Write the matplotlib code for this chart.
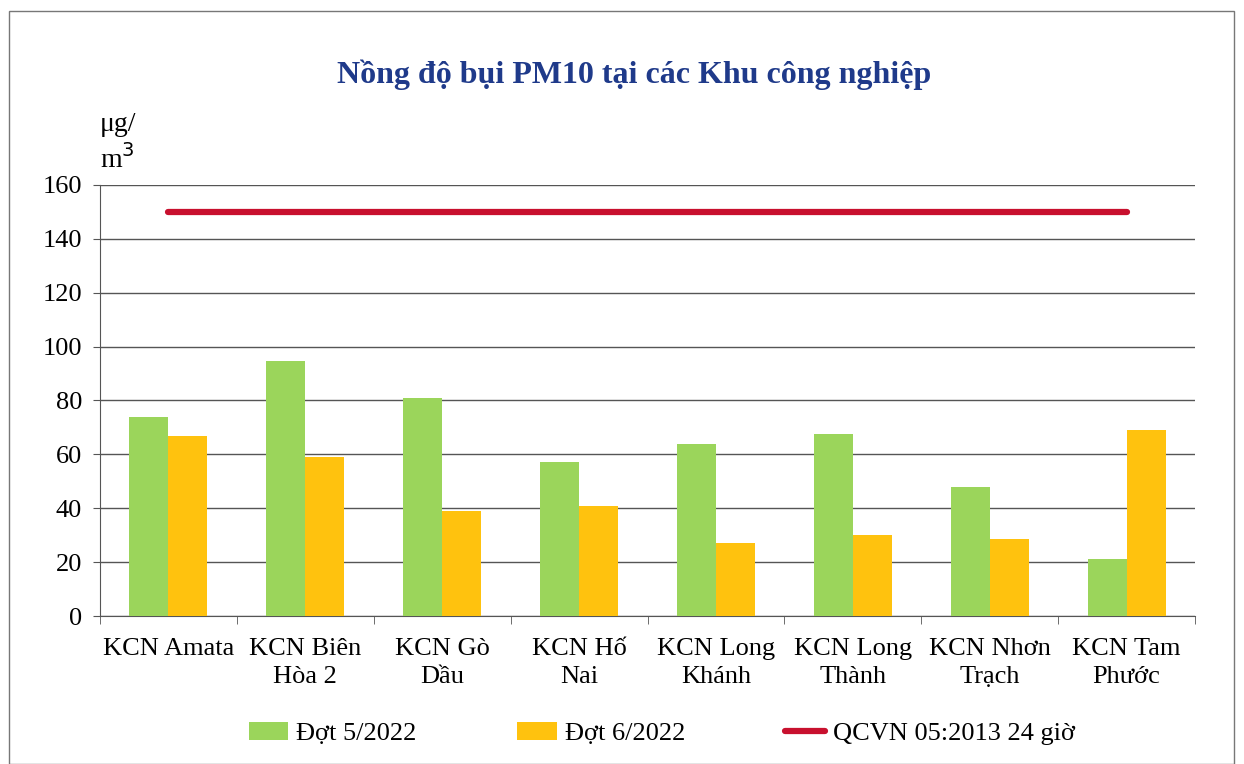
import numpy as np
import matplotlib.pyplot as plt
from matplotlib.patches import Rectangle

plt.rcParams['font.family'] = ['Liberation Serif', 'DejaVu Serif']

# dữ liệu
categories = ['KCN Amata', 'KCN Biên\nHòa 2', 'KCN Gò\nDầu', 'KCN Hố\nNai',
              'KCN Long\nKhánh', 'KCN Long\nThành', 'KCN Nhơn\nTrạch', 'KCN Tam\nPhước']
dot5 = [74, 94.5, 81, 57, 64, 67.5, 48, 21]
dot6 = [67, 59, 39, 41, 27, 30, 28.5, 69]
qcvn = [150, 150, 150, 150, 150, 150, 150, 150]
series_names = ['Đợt 5/2022', 'Đợt 6/2022', 'QCVN 05:2013 24 giờ']
yticks = [0, 20, 40, 60, 80, 100, 120, 140, 160]

fig = plt.figure(figsize=(12.44, 7.64), dpi=100)
ax = fig.add_axes([0.0804, 0.1937, 0.8802, 0.5642])

x = np.arange(len(categories))
w = 0.285
b1 = ax.bar(x - w / 2, dot5, w, color='#9BD55B', zorder=3, label=series_names[0])
b2 = ax.bar(x + w / 2, dot6, w, color='#FFC20E', zorder=3, label=series_names[1])
l1, = ax.plot(x, qcvn, color='#C8102E', lw=4.5, zorder=4, solid_capstyle='round',
              label=series_names[2])

ax.set_xlim(-0.5, len(categories) - 0.5)
ax.set_ylim(0, 160)
ax.set_yticks(yticks)
ax.tick_params(axis='y', labelsize=19, length=5, color='#555555', pad=8)
ax.set_xticks(x)
ax.set_xticklabels(categories, fontsize=19, linespacing=1.35)
ax.tick_params(axis='x', length=0, pad=16)
ax.set_xticks(np.arange(-0.5, len(categories)), minor=True)
ax.tick_params(axis='x', which='minor', length=6, color='#555555')
ax.grid(axis='y', color='#555555', lw=1, zorder=0)
for s in ['top', 'right']:
    ax.spines[s].set_visible(False)
ax.spines['left'].set_color('#555555')
ax.spines['bottom'].set_color('#555555')

ax.text(-0.5, 164, 'μg/\nm$^3$', fontsize=20, ha='left', va='bottom', linespacing=1.3)

fig.text(0.51, 0.902, 'Nồng độ bụi PM10 tại các Khu công nghiệp', ha='center', va='center',
         fontsize=23, fontweight='bold', color='#1F3A8A')

fig.legend(handles=[b1, b2, l1], loc='center', bbox_to_anchor=(0.532, 0.04), ncol=3,
           frameon=False, fontsize=19, columnspacing=3.8, handlelength=1.5,
           handleheight=0.7, handletextpad=0.3)

fig.patches.append(Rectangle((0.007, 0.0), 0.985, 0.985, transform=fig.transFigure,
                             fill=False, edgecolor='#777777', lw=1))

fig.savefig('out.png', dpi=100)
